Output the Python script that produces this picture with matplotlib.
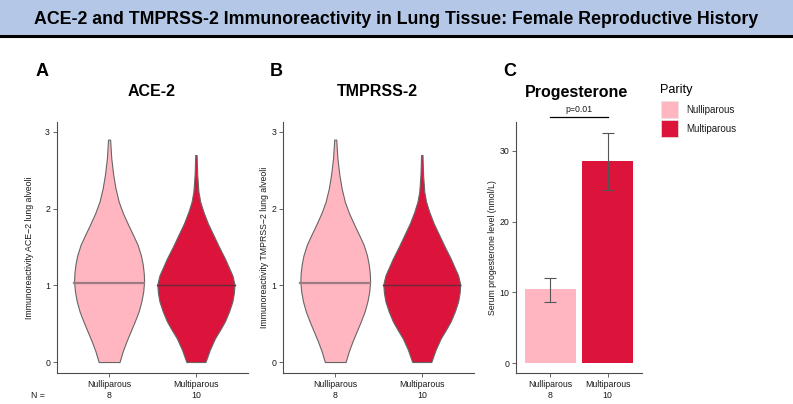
import numpy as np
import matplotlib
matplotlib.use('Agg')
import matplotlib.pyplot as plt
from matplotlib.patches import Rectangle
from matplotlib.lines import Line2D
from matplotlib.transforms import blended_transform_factory

plt.rcParams['font.family'] = ['Liberation Sans', 'DejaVu Sans']

W, H = 793, 404

groups = ['Nulliparous', 'Multiparous']
counts = [8, 10]
colors = ['#FFB6C1', '#DC143C']

# violin outlines: level -> half width (category units)
nulli_lev = [0, 0.14, 0.27, 0.40, 0.53, 0.66, 0.79, 0.918, 1.05, 1.15, 1.27, 1.39,
             1.53, 1.66, 1.79, 1.94, 2.09, 2.265, 2.44, 2.66, 2.90]
nulli_w = [0.120, 0.157, 0.200, 0.248, 0.296, 0.340, 0.372, 0.393, 0.403, 0.400, 0.388, 0.367,
           0.328, 0.275, 0.220, 0.160, 0.111, 0.074, 0.048, 0.025, 0.012]
multi_lev = [0, 0.16, 0.31, 0.42, 0.53, 0.66, 0.79, 0.90, 1.01, 1.13, 1.35, 1.50,
             1.66, 1.81, 1.96, 2.09, 2.22, 2.44, 2.70]
multi_w = [0.110, 0.160, 0.220, 0.279, 0.334, 0.382, 0.420, 0.437, 0.445, 0.420, 0.334, 0.267,
           0.200, 0.137, 0.086, 0.050, 0.029, 0.015, 0.008]
medians = [1.034, 1.008]

# progesterone panel
prog_mean = [10.5, 28.6]
prog_lo = [8.7, 24.5]
prog_hi = [12.1, 32.6]
p_text = 'p=0.01'


def fx(px):
    return px / W


def fy(py):
    return 1 - py / H


def make_ax(left, right, top=122, bottom=373):
    return fig.add_axes([fx(left), fy(bottom), (right - left) / W, (bottom - top) / H])


def style_ax(ax):
    for s in ['top', 'right']:
        ax.spines[s].set_visible(False)
    for s in ['left', 'bottom']:
        ax.spines[s].set_color('#4d4d4d')
        ax.spines[s].set_linewidth(0.8)
    ax.tick_params(colors='#4d4d4d', labelcolor='#1a1a1a', labelsize=6.3, length=3, width=0.6, pad=2)


fig = plt.figure(figsize=(W / 100, H / 100), dpi=100)

# header band
fig.add_artist(Rectangle((0, fy(35)), 1, 35 / H, transform=fig.transFigure, color='#B4C7E7', zorder=0))
fig.add_artist(Line2D([0, 1], [fy(36), fy(36)], transform=fig.transFigure, color='black', lw=2.2))
title = fig.text(0.5, fy(19), 'ACE-2 and TMPRSS-2 Immunoreactivity in Lung Tissue: Female Reproductive History',
                 ha='center', va='center', fontsize=15, fontweight='bold')
# shrink the title to the width it has in the reference (~723 px)
tw = title.get_window_extent(renderer=fig.canvas.get_renderer()).width
title.set_fontsize(15 * 723 / tw)

violins = [(nulli_lev, nulli_w), (multi_lev, multi_w)]
med_style = [('#9c7c82', 1.6), ('#6b2a3a', 1.0)]

panels = [('A', 'ACE-2', 'Immunoreactivity ACE\u22122 lung alveoli', 57, 248, 42, 152, 33.5),
          ('B', 'TMPRSS-2', 'Immunoreactivity TMPRSS\u22122 lung alveoli', 283.3, 473.7, 276, 377, 269)]

for letter, ttl, ylab, left, right, lx, tx, labx in panels:
    ax = make_ax(left, right)
    style_ax(ax)
    for i, (lev, w) in enumerate(violins):
        lev = np.array(lev)
        w = np.array(w)
        c = i + 1
        ax.fill_betweenx(lev, c - w, c + w, facecolor=colors[i], edgecolor='#666666', lw=0.8)
        mw = np.interp(medians[i], lev, w)
        ax.plot([c - mw, c + mw], [medians[i], medians[i]], color=med_style[i][0], lw=med_style[i][1])
    ax.set_xlim(0.4, 2.6)
    ax.set_ylim(-0.143, 3.13)
    ax.set_yticks([0, 1, 2, 3])
    ax.set_xticks([1, 2])
    ax.set_xticklabels(groups)
    ax.set_ylabel(ylab, fontsize=6.3, color='#1a1a1a')
    ax.yaxis.set_label_coords((labx - left) / (right - left), 0.5)
    tr = blended_transform_factory(ax.transData, fig.transFigure)
    for i, n in enumerate(counts):
        ax.text(i + 1, fy(395), str(n), transform=tr, ha='center', va='center', fontsize=6.3, color='#1a1a1a')
    fig.text(fx(tx), fy(92), ttl, ha='center', va='center', fontsize=11.5, fontweight='bold')
    fig.text(fx(lx), fy(72), letter, ha='center', va='center', fontsize=13, fontweight='bold')

fig.text(fx(38), fy(395), 'N =', ha='center', va='center', fontsize=6.3, color='#1a1a1a')

# panel C
axc = make_ax(516, 642)
style_ax(axc)
x = np.array([1, 2])
axc.bar(x, prog_mean, width=0.9, color=colors)
err = [np.array(prog_mean) - np.array(prog_lo), np.array(prog_hi) - np.array(prog_mean)]
axc.errorbar(x, prog_mean, yerr=err, fmt='none', ecolor='#555555', elinewidth=0.8, capsize=4.3, capthick=0.8)
axc.set_xlim(0.4, 2.6)
axc.set_ylim(-1.41, 34.1)
axc.set_yticks([0, 10, 20, 30])
axc.set_xticks([1, 2])
axc.set_xticklabels(groups)
axc.set_ylabel('Serum progesterone level (nmol/L)', fontsize=6.3, color='#1a1a1a')
axc.yaxis.set_label_coords((497 - 516) / (642 - 516), 0.5)
axc.plot([1, 2], [34.8, 34.8], color='black', lw=0.9, clip_on=False)
axc.text(1.5, 35.9, p_text, ha='center', va='center', fontsize=6.3, color='#1a1a1a', clip_on=False)
tr = blended_transform_factory(axc.transData, fig.transFigure)
for i, n in enumerate(counts):
    axc.text(i + 1, fy(395), str(n), transform=tr, ha='center', va='center', fontsize=6.3, color='#1a1a1a')
fig.text(fx(577), fy(92), 'Progesterone', ha='center', va='center', fontsize=11.5, fontweight='bold')
fig.text(fx(510), fy(72), 'C', ha='center', va='center', fontsize=13, fontweight='bold')

# legend, laid out by hand in figure pixels
fig.text(fx(660), fy(90), 'Parity', ha='left', va='center', fontsize=9.2)
for i, g in enumerate(groups):
    top = 101 + i * 18.5
    fig.add_artist(Rectangle((fx(661), fy(top + 17.5)), 17 / W, 17.5 / H, transform=fig.transFigure,
                             facecolor=colors[i], edgecolor='#e6e6e6', lw=0.5))
    fig.text(fx(686), fy(top + 9), g, ha='left', va='center', fontsize=7, color='#1a1a1a')

fig.savefig('out.png', dpi=100)
